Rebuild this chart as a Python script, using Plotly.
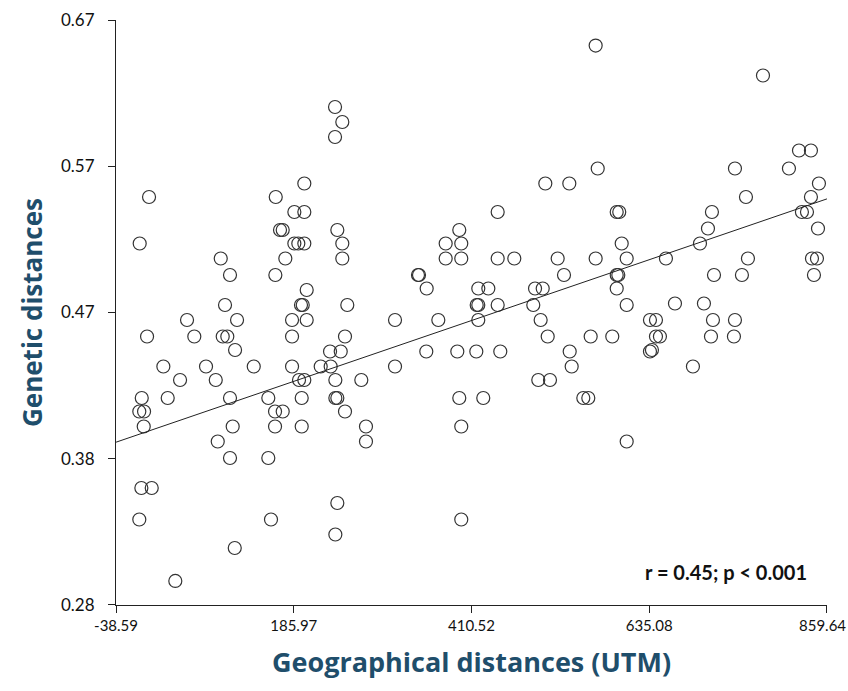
import plotly.graph_objects as go

# Geographical distance (UTM) and genetic distance for each pair of populations
geo_dist = [
    3.1, 163.2, 186.7, 168.6, 172.0, -8.7, 186.7, 191.7, 93.7, 175.3,
    105.4, 162.7, 99.1, 51.1, 114.3, 183.8, 0.6, 60.3, 96.2, 102.0,
    183.8, 111.8, 21.2, 75.1, 135.4, 183.8, 42.3, 87.4, 192.6, -6.1,
    26.7, 105.4, 153.8, 196.0, -9.2, -3.2, 162.3, 172.0, -3.6, 108.8,
    162.3, 196.0, 89.9, 105.4, 153.8, -6.6, 6.5, -9.2, 157.2, 111.4,
    36.3,
    238.1, 247.3, 238.1, 199.3, 199.3, 241.0, 199.3, 247.3, 247.3, 202.3,
    195.1, 197.3, 253.6, 202.3, 313.9, 250.7, 231.8, 245.3, 220.0, 232.6,
    313.9, 199.3, 238.5, 271.3, 238.5, 241.0, 250.7, 277.2, 277.2, 241.0,
    238.5,
    567.4, 570.0, 503.8, 534.1, 443.6, 594.0, 597.2, 395.1, 377.9, 397.6,
    600.3, 377.9, 397.6, 443.6, 464.6, 519.4, 567.4, 606.6, 344.2, 527.4,
    594.0, 596.0, 353.9, 419.1, 431.8, 490.8, 500.5, 594.0, 417.1, 419.1,
    443.6, 488.6, 606.6, 368.6, 419.1, 497.9, 506.8, 561.1, 588.4, 353.4,
    392.6, 416.6, 446.9, 534.6, 537.1, 494.9, 509.7, 395.1, 425.4, 551.8,
    558.1, 397.6, 606.6, 397.6, 636.0, 636.0, 342.9,
    778.8, 824.3, 839.4, 743.4, 811.6, 849.5, 757.3, 839.4, 714.3, 828.0,
    834.4, 709.3, 848.3, 699.2, 656.2, 759.8, 840.7, 847.0, 716.9, 752.2,
    843.2, 667.6, 704.2, 643.6, 715.6, 743.4, 643.6, 648.6, 713.1, 742.1,
    638.5, 690.3,
]
gen_dist = [
    0.552, 0.552, 0.542, 0.530, 0.530, 0.521, 0.521, 0.521, 0.511, 0.511,
    0.500, 0.500, 0.480, 0.470, 0.470, 0.470, 0.459, 0.459, 0.459, 0.459,
    0.459, 0.450, 0.439, 0.439, 0.439, 0.439, 0.430, 0.430, 0.430, 0.418,
    0.418, 0.418, 0.418, 0.418, 0.409, 0.409, 0.409, 0.409, 0.399, 0.399,
    0.399, 0.399, 0.389, 0.378, 0.378, 0.358, 0.358, 0.337, 0.337, 0.318,
    0.296,
    0.612, 0.602, 0.592, 0.561, 0.542, 0.530, 0.521, 0.521, 0.511, 0.490,
    0.480, 0.480, 0.480, 0.470, 0.470, 0.459, 0.449, 0.449, 0.439, 0.439,
    0.439, 0.430, 0.430, 0.430, 0.418, 0.418, 0.409, 0.399, 0.389, 0.348,
    0.327,
    0.653, 0.571, 0.561, 0.561, 0.542, 0.542, 0.542, 0.530, 0.521, 0.521,
    0.521, 0.511, 0.511, 0.511, 0.511, 0.511, 0.511, 0.511, 0.500, 0.500,
    0.500, 0.500, 0.491, 0.491, 0.491, 0.491, 0.491, 0.491, 0.480, 0.480,
    0.480, 0.480, 0.480, 0.470, 0.470, 0.470, 0.459, 0.459, 0.459, 0.449,
    0.449, 0.449, 0.449, 0.449, 0.439, 0.430, 0.430, 0.418, 0.418, 0.418,
    0.418, 0.399, 0.389, 0.337, 0.449, 0.470, 0.500,
    0.633, 0.583, 0.583, 0.571, 0.571, 0.561, 0.552, 0.552, 0.542, 0.542,
    0.542, 0.531, 0.531, 0.521, 0.511, 0.511, 0.511, 0.511, 0.500, 0.500,
    0.500, 0.481, 0.481, 0.470, 0.470, 0.470, 0.459, 0.459, 0.459, 0.459,
    0.450, 0.439,
]

# Linear trend
trend_intercept = 0.3955
trend_slope = 0.0001806

x_ticks = [-38.59, 185.97, 410.52, 635.08, 859.64]
x_ticktext = ["-38.59", "185.97", "410.52", "635.08", "859.64"]
y_ticks = [0.28, 0.3775, 0.475, 0.5725, 0.67]
y_ticktext = ["0.28", "0.38", "0.47", "0.57", "0.67"]

x_min, x_max = x_ticks[0], x_ticks[-1]
y_min, y_max = y_ticks[0], y_ticks[-1]
eps_x = 0.05
eps_y = 0.00002

title_color = "#1f4e6b"
x_tick_font = dict(family="Lato, Liberation Sans, sans-serif", size=15, color="#111111")
y_tick_font = dict(family="Lato, Liberation Sans, sans-serif", size=17, color="#111111")

fig = go.Figure()
fig.add_trace(go.Scatter(
    x=geo_dist, y=gen_dist, mode="markers",
    marker=dict(symbol="circle-open", size=13, color="#333333", line=dict(width=1.2)),
    showlegend=False, hoverinfo="x+y",
))
trend_x = [x_min, x_max]
trend_y = [trend_intercept + trend_slope * v for v in trend_x]
fig.add_trace(go.Scatter(
    x=trend_x, y=trend_y, mode="lines",
    line=dict(color="#222222", width=1), showlegend=False, hoverinfo="skip",
))

fig.add_annotation(
    x=0.975, y=0.056, xref="paper", yref="paper", xanchor="right", yanchor="middle",
    text="<b>r = 0.45; p < 0.001</b>", showarrow=False,
    font=dict(family="Lato, Liberation Sans, sans-serif", size=20, color="#111111"),
)

# The last x tick label sits at the right edge of the page: draw it nudged inward
shown_ticktext = x_ticktext[:-1] + [""]
fig.add_annotation(
    x=x_ticks[-1], y=0, xref="x", yref="paper", xanchor="center", yanchor="middle",
    xshift=-4, yshift=-20, text=x_ticktext[-1], showarrow=False, font=x_tick_font,
)

fig.update_layout(
    width=848, height=691,
    margin=dict(l=116, r=21, t=20, b=86, autoexpand=False),
    paper_bgcolor="white", plot_bgcolor="white",
    xaxis=dict(
        range=[x_min - eps_x, x_max + eps_x], tickvals=x_ticks, ticktext=shown_ticktext,
        showgrid=False, zeroline=False, showline=True, linecolor="#222222", linewidth=1,
        ticks="outside", ticklen=7, tickcolor="#222222", tickfont=x_tick_font,
        automargin=False,
        title=dict(text="<b>Geographical distances (UTM)</b>",
                   font=dict(family="Open Sans, sans-serif", size=27, color=title_color),
                   standoff=20),
    ),
    yaxis=dict(
        range=[y_min - eps_y, y_max + eps_y], tickvals=y_ticks, ticktext=y_ticktext,
        showgrid=False, zeroline=False, showline=True, linecolor="#222222", linewidth=1,
        ticks="outside", ticklen=7, tickcolor="#222222", tickfont=y_tick_font,
        ticklabelstandoff=10, automargin=False,
        title=dict(text="<b>Genetic distances</b>",
                   font=dict(family="Open Sans, sans-serif", size=26, color=title_color),
                   standoff=10),
    ),
)

fig.write_html("out.html")
